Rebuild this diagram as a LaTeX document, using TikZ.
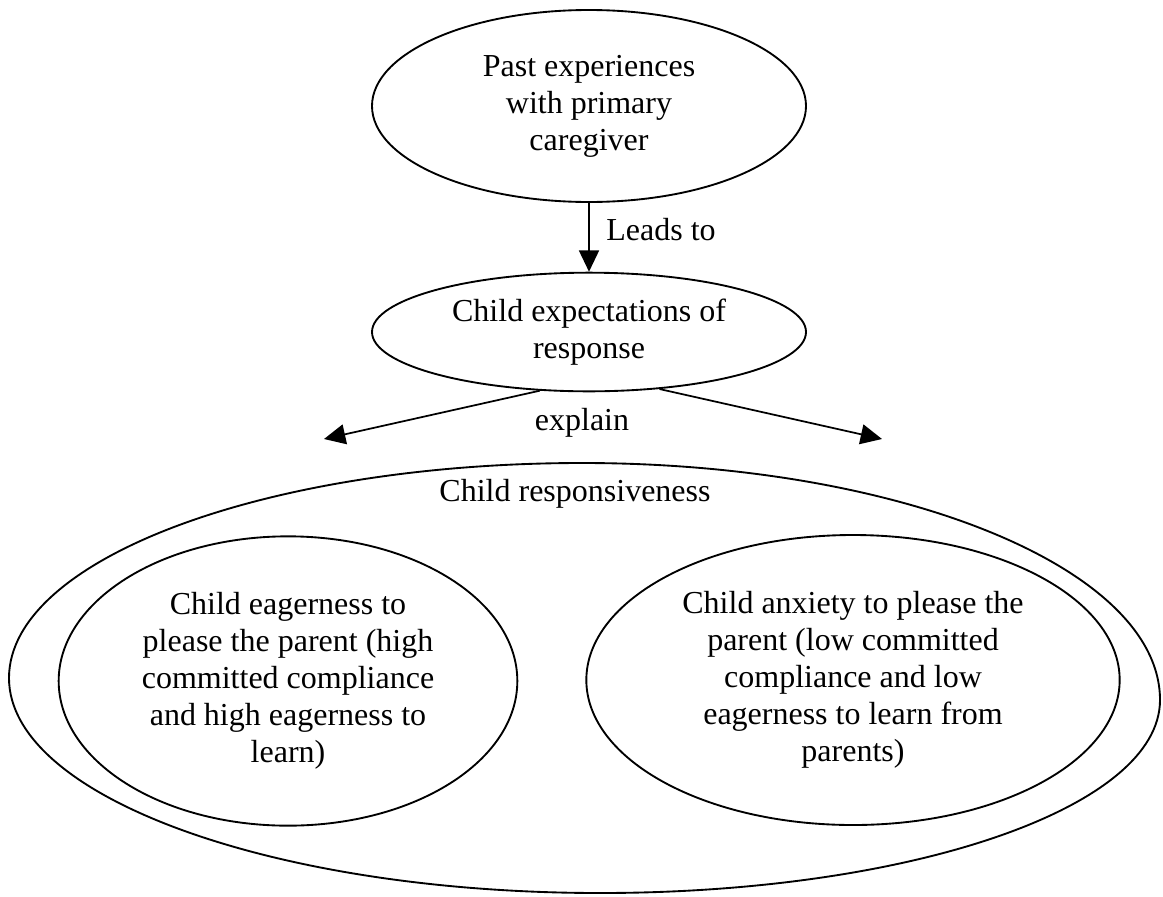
\documentclass[tikz,border=0pt]{standalone}
\usepackage{fontspec}
\setmainfont{Liberation Serif}
\usetikzlibrary{shapes.geometric,arrows.meta}
\begin{document}
\begin{tikzpicture}[x=0.75pt,y=-0.75pt,
  every node/.style={font=\fontsize{24}{27.75}\selectfont, inner sep=0pt},
  oval/.style={draw, ellipse, line width=1.4pt, align=center},
  outline/.style={draw, line width=1.4pt},
  conn/.style={line width=1.3pt, -{Triangle[length=16pt,width=15pt]}}]
\useasboundingbox (0,0) rectangle (1163,896);
\node[oval, minimum width=325.5pt, minimum height=144pt] (past) at (589,106)
  {Past experiences\\with primary\\caregiver};
\node[oval, minimum width=325.5pt, minimum height=89pt] (expect) at (589,332)
  {Child expectations of\\response};
% outer container (hand-drawn egg shape)
\coordinate (oL) at (9,678);
\coordinate (oT) at (582,463);
\coordinate (oR) at (1160,700);
\coordinate (oB) at (600,893);
\path[outline] (oL) .. controls (9,559) and (266,463) .. (oT)
  .. controls (902,463) and (1160,569) .. (oR)
  .. controls (1160,808) and (910,893) .. (oB)
  .. controls (274,893) and (9,797) .. (oL) -- cycle;
\node (resp) at (575,494) {Child responsiveness};
\node[oval, minimum width=344pt, minimum height=217pt] (eager) at (288,681)
  {Child eagerness to\\please the parent (high\\committed compliance\\and high eagerness to\\learn)};
\node[oval, minimum width=400pt, minimum height=217.5pt] (anx) at (853,680)
  {Child anxiety to please the\\parent (low committed\\compliance and low\\eagerness to learn from\\parents)};
\draw[conn] (past) -- (expect);
\node (leads) at (661,230) {Leads to};
\coordinate (lt) at (324,439);
\coordinate (rt) at (882,439);
\draw[conn] (expect.230.6) -- (lt);
\draw[conn] (expect.321.4) -- (rt);
\node (explain) at (582,423) {explain};
\end{tikzpicture}
\end{document}
